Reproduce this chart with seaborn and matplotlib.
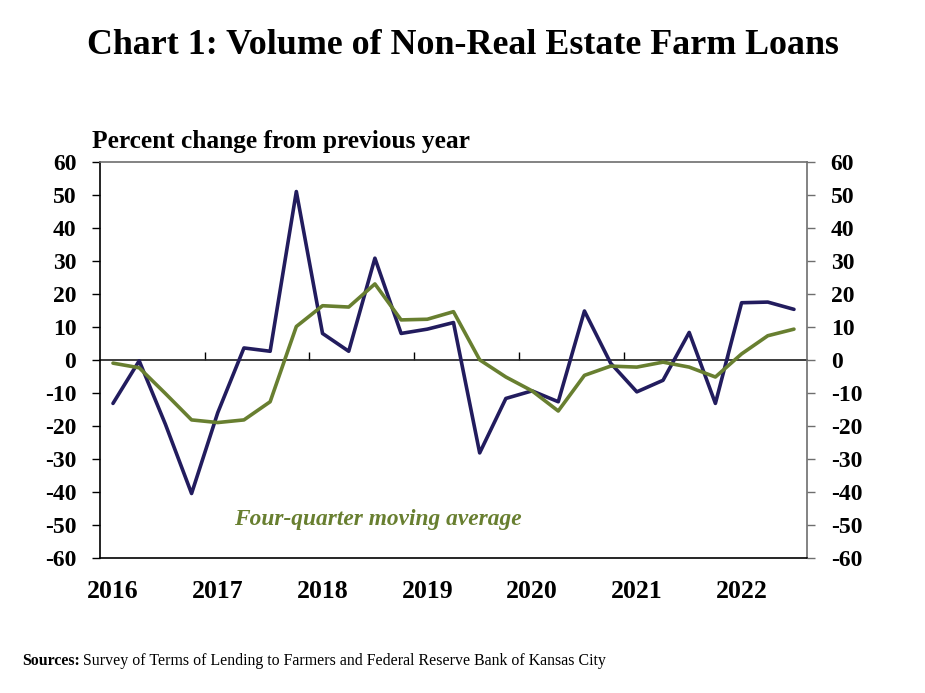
import numpy as np
import pandas as pd
import matplotlib
matplotlib.use('Agg')
import matplotlib.pyplot as plt
import seaborn as sns

# quarterly data, 2016 Q1 to 2022 Q3
quarters = pd.period_range('2016Q1', '2022Q3', freq='Q').astype(str).tolist()
loan_volume = [-13.2, -0.3, -19.5, -40.5, -16.0, 3.6, 2.6, 51.0, 8.0, 2.6, 30.8, 8.0, 9.3, 11.3,
               -28.2, -11.7, -9.4, -12.7, 14.8, -1.0, -9.7, -6.2, 8.3, -13.2, 17.3, 17.5, 15.3]
moving_avg = [-1.0, -2.4, -10.2, -18.2, -19.0, -18.2, -12.7, 10.1, 16.4, 16.0, 23.0, 12.1, 12.3, 14.6,
              0.0, -5.2, -9.4, -15.5, -4.7, -1.9, -2.2, -0.7, -2.2, -5.2, 1.8, 7.3, 9.3]
year_labels = ['2016', '2017', '2018', '2019', '2020', '2021', '2022']
y_ticks = list(range(-60, 61, 10))

df = pd.DataFrame({'quarter': quarters, 'volume': loan_volume, 'avg': moving_avg})
df['pos'] = np.arange(len(df))

navy = '#221c5e'
olive = '#687f30'
frame_grey = '#6e6e6e'

sns.set_theme(style='white', rc={'text.color': 'black', 'xtick.color': 'black',
                                 'ytick.color': 'black', 'axes.labelcolor': 'black'})
plt.rcParams['font.family'] = ['Liberation Serif', 'DejaVu Serif']

fig = plt.figure(figsize=(9.25, 6.93), dpi=100)
ax = fig.add_axes([0.108, 0.195, 0.7645, 0.5715])

sns.lineplot(data=df, x='pos', y='volume', ax=ax, color=navy, linewidth=2.6)
sns.lineplot(data=df, x='pos', y='avg', ax=ax, color=olive, linewidth=2.6)

ax.set_xlim(-0.5, len(df) - 0.5)
ax.set_ylim(-60, 60)
ax.set_yticks(y_ticks)
ax.set_yticklabels([str(t) for t in y_ticks], fontsize=17, fontweight='bold')
ax.set_xlabel('')
ax.set_ylabel('')

# year labels under the plot at each Q1
year_pos = df['pos'][df['quarter'].str.endswith('Q1')].tolist()
ax.set_xticks(year_pos)
ax.set_xticklabels(year_labels, fontsize=18.5, fontweight='bold')
ax.tick_params(axis='x', length=0, pad=16)
ax.tick_params(axis='y', direction='out', length=6, width=1, color='black', pad=11, left=True)

ax.spines['left'].set_color('black')
ax.spines['bottom'].set_color('black')
ax.spines['top'].set_color(frame_grey)
ax.spines['right'].set_color(frame_grey)
for s in ax.spines.values():
    s.set_linewidth(1.2)

# zero line with year boundary ticks
zero_ax = ax.secondary_xaxis(0.5)
zero_ax.set_xticks([p - 0.5 for p in year_pos[1:]])
zero_ax.set_xticklabels([])
zero_ax.tick_params(axis='x', direction='out', length=6, width=1, color='black')
zero_ax.spines['bottom'].set_color('black')
zero_ax.spines['bottom'].set_linewidth(1)

# right axis mirrors the left
ax2 = ax.twinx()
ax2.set_ylim(-60, 60)
ax2.set_yticks(y_ticks)
ax2.set_yticklabels([str(t) for t in y_ticks], fontsize=17, fontweight='bold')
ax2.tick_params(axis='y', direction='out', length=6, width=1, color=frame_grey, pad=11, right=True)
ax2.grid(False)
for s in ax2.spines.values():
    s.set_visible(False)

fig.text(0.5, 0.935, 'Chart 1: Volume of Non-Real Estate Farm Loans', ha='center', va='center',
         fontsize=25.8, fontweight='bold')
fig.text(0.1, 0.796, 'Percent change from previous year', ha='left', va='center',
         fontsize=18.3, fontweight='bold')
ax.text(4.64, -48.3, 'Four-quarter moving average', ha='left', va='center', fontsize=16.8,
        fontweight='bold', fontstyle='italic', color=olive)

fig.text(0.024, 0.046, 'Sources:', ha='left', va='center', fontsize=11.4, fontweight='bold')
fig.text(0.09, 0.046, 'Survey of Terms of Lending to Farmers and Federal Reserve Bank of Kansas City',
         ha='left', va='center', fontsize=11.4)

fig.savefig('out.png', dpi=100, facecolor='white')
